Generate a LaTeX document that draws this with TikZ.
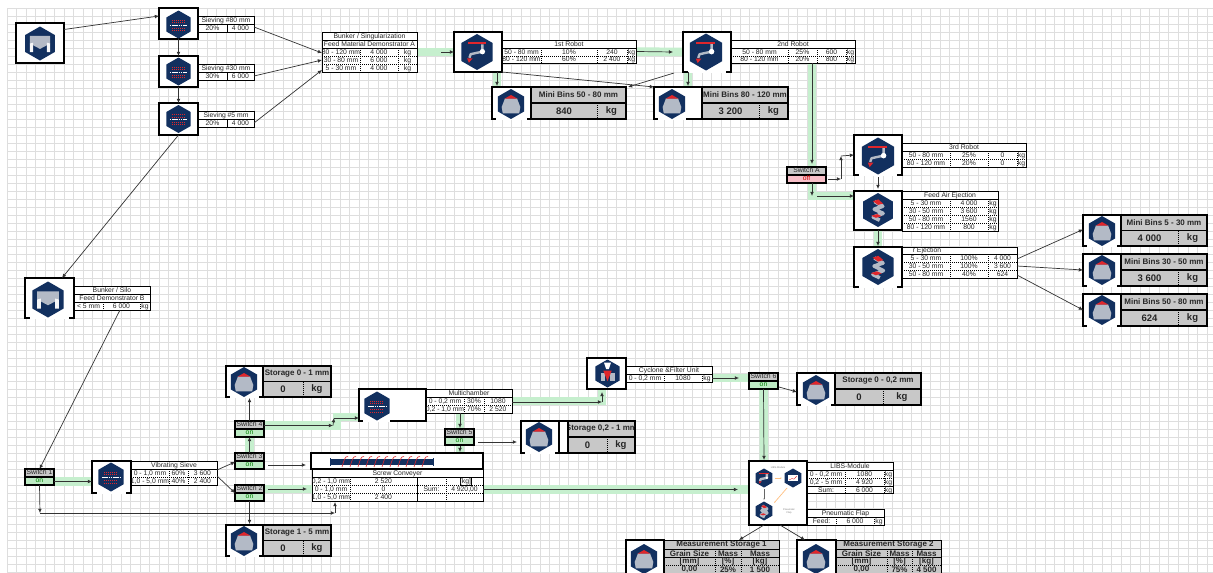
\documentclass[tikz,border=0pt]{standalone}
\usepackage{fontspec}
\setmainfont{Liberation Sans}
\usepackage{xcolor}
\usetikzlibrary{arrows.meta,calc,backgrounds}
\definecolor{hexnavy}{HTML}{12305F}
\definecolor{bingray}{HTML}{C8C8C8}
\definecolor{hopper}{HTML}{B3BAC6}
\definecolor{flowgreen}{HTML}{C6EFCE}
\definecolor{gridgray}{HTML}{DEDEDE}
\definecolor{onfill}{HTML}{BDEBC4}
\definecolor{offfill}{HTML}{F7BFC8}
\definecolor{hexred}{HTML}{E0262B}
\colorlet{ontext}{green!50!black}
\colorlet{offtext}{red!80!black}
\tikzset{
  machine/.style={draw, line width=1.1pt, fill=white, inner sep=0pt, outer sep=0pt, anchor=north west},
  sheet/.style={draw, line width=.5pt, fill=white, inner sep=0pt, outer sep=0pt, anchor=north west},
  bincell/.style={machine, fill=bingray},
  cellt/.style={font=\fontsize{6.8}{8}\selectfont, inner sep=0pt, text height=5pt, text depth=1.2pt, text=black!85},
  bintitle/.style={font=\fontsize{8}{8}\bfseries\selectfont, inner sep=0pt, text=black!85},
  binvalue/.style={font=\fontsize{9.5}{10}\bfseries\selectfont, inner sep=0pt, text=black!85},
  solidrule/.style={line width=.5pt},
  thickrule/.style={line width=1.1pt},
  tabdash/.style={line width=.5pt, dash pattern=on 1pt off 1pt},
  arr/.style={-{Latex[length=4.2pt,width=3.8pt]}, line width=.7pt, black!80},
  flow/.style={line width=8.5pt, flowgreen},
  gridline/.style={line width=.9pt, gridgray},
  notch/.style={white, line width=2pt},
  pics/binicon/.style={code={
    \fill[hexnavy] (0,-1) -- (.87,-.5) -- (.87,.5) -- (0,1) -- (-.87,.5) -- (-.87,-.5) -- cycle;
    \fill[hopper] (-.4,-.38) -- (.4,-.38) -- (.62,.2) -- (.55,.62) -- (-.55,.62) -- (-.62,.2) -- cycle;
    \fill[hexred] (-.42,-.36) -- (0,-.6) -- (.42,-.36) -- cycle;}},
  pics/bunkericon/.style={code={
    \fill[hexnavy] (0,-1) -- (.87,-.5) -- (.87,.5) -- (0,1) -- (-.87,.5) -- (-.87,-.5) -- cycle;
    \fill[hopper] (-.6,-.45) -- (.6,-.45) -- (.6,0) -- (0,.32) -- (-.6,0) -- cycle;
    \fill[white!88!hopper] (-.6,0) -- (-.4,-.05) -- (-.4,.5) -- (-.6,.5) -- cycle;
    \fill[white!88!hopper] (.6,0) -- (.4,-.05) -- (.4,.5) -- (.6,.5) -- cycle;}},
  pics/sieveicon/.style={code={
    \fill[hexnavy] (0,-1) -- (.87,-.5) -- (.87,.5) -- (0,1) -- (-.87,.5) -- (-.87,-.5) -- cycle;
    \foreach \dy in {-.32,-.16,.24,.4}
      \draw[hexred, line width=.5pt, dash pattern=on .8pt off 1.2pt] (-.45,\dy) -- (.45,\dy);
    \draw[white, line width=.9pt, dash pattern=on 1.6pt off .6pt] (-.62,.04) -- (.62,.04);}},
  pics/roboticon/.style={code={
    \fill[hexnavy] (0,-1) -- (.87,-.5) -- (.87,.5) -- (0,1) -- (-.87,.5) -- (-.87,-.5) -- cycle;
    \fill[hexred] (-.52,-.55) rectangle (.5,-.45);
    \draw[hopper, line width=2.4pt, line join=round] (.3,-.42) -- (.3,-.02) -- (-.35,.12) -- (-.42,.32);
    \fill[white] (.3,-.02) circle (.15);
    \fill[hexred] (-.55,.36) -- (-.25,.36) -- (-.45,.6) -- cycle;}},
  pics/ejecticon/.style={code={
    \fill[hexnavy] (0,-1) -- (.87,-.5) -- (.87,.5) -- (0,1) -- (-.87,.5) -- (-.87,-.5) -- cycle;
    \draw[hopper, line width=3.6pt, line join=round] (-.2,-.5) -- (.28,-.22) -- (-.22,-.05) -- (.3,.2) -- (-.28,.42) -- (.1,.6);
    \fill[hexred] (-.3,-.52) -- (.02,-.62) -- (.3,-.38) -- (0,-.3) -- cycle;
    \fill[hexred] (-.4,.34) -- (-.05,.24) -- (.2,.36) -- (-.12,.46) -- cycle;}},
  pics/cycloneicon/.style={code={
    \fill[hexnavy] (0,-1) -- (.87,-.5) -- (.87,.5) -- (0,1) -- (-.87,.5) -- (-.87,-.5) -- cycle;
    \fill[white] (-.25,-.78) -- (.25,-.78) -- (.1,-.32) -- (-.1,-.32) -- cycle;
    \fill[hopper] (-.5,-.05) rectangle (-.18,.55);
    \fill[hopper] (.18,-.05) rectangle (.5,.55);
    \fill[hexred] (-.3,-.2) -- (.3,-.2) -- (0,.55) -- cycle;}},
  pics/charticon/.style={code={
    \fill[hexnavy] (0,-1) -- (.87,-.5) -- (.87,.5) -- (0,1) -- (-.87,.5) -- (-.87,-.5) -- cycle;
    \fill[white] (-.5,-.3) rectangle (.5,.3);
    \draw[hexred, line width=.4pt] (-.4,.2) -- (-.1,.05) -- (.1,.12) -- (.4,-.2);}}}
\newcommand{\rectnode}[6]{\node[#1, minimum width={(#5-#3)*1pt}, minimum height={(#6-#4)*1pt}] (#2) at (#3,#4) {};}
\newcommand{\rowt}[2]{\foreach \xa/\xb/\txt in {#2} \node[cellt] (c\xa r#1) at ({(\xa+\xb)/2},#1+4.1) {\txt};}
\newcommand{\hrules}[3]{\foreach \ry in {#3} \draw[tabdash] (#1,\ry) -- (#2,\ry);}
\newcommand{\vrules}[3]{\foreach \cx in {#3} \draw[tabdash] (\cx,#1) -- (\cx,#2);}
\newcommand{\bincard}[9]{
  \rectnode{machine}{#1}{#2}{#5}{#3}{#6}
  \rectnode{bincell}{#1tab}{#3}{#5}{#4}{#6}
  \draw[thickrule] (#3,{(#5+#6)/2}) -- (#4,{(#5+#6)/2});
  \draw[tabdash] (#7,{(#5+#6)/2}) -- (#7,#6);
  \node[bintitle] (#1title) at ({(#3+#4)/2},{#5+.25*(#6-#5)}) {#8};
  \node[binvalue] (#1value) at ({(#3+#7)/2},{#5+.75*(#6-#5)}) {#9};
  \node[binvalue] (#1unit) at ({(#7+#4)/2},{#5+.75*(#6-#5)}) {kg};}
\newcommand{\switchbox}[6]{
  \rectnode{machine}{#1}{#2}{#3}{#2+#6}{#3+16}
  \fill[bingray] (#2,#3) rectangle (#2+#6,#3+8);
  \fill[#5fill] (#2,#3+8) rectangle (#2+#6,#3+16);
  \rectnode{machine, fill=none}{#1edge}{#2}{#3}{#2+#6}{#3+16}
  \draw[thickrule] (#2,#3+8) -- (#2+#6,#3+8);
  \node[cellt] (#1label) at ({#2+#6/2},#3+4) {#4};
  \node[cellt, text=#5text] (#1state) at ({#2+#6/2},#3+12) {#5};}
\newcommand{\measure}[8]{
  \rectnode{machine}{#1}{#2}{540}{#3}{574}
  \rectnode{sheet, fill=bingray}{#1tab}{#3}{540}{#4}{574}
  \foreach \ry in {549,557} \draw[solidrule] (#3,\ry) -- (#4,\ry);
  \hrules{#3}{#4}{565}
  \vrules{549}{574}{#5,#6}
  \foreach \xa/\xb/\txt/\rr in {#3/#4/#7/540, #3/#5/Grain Size/549, #5/#6/Mass/549, #6/#4/Mass/549, #3/#5/[mm]/557, #5/#6/[\%]/557, #6/#4/[kg]/557, #3/#5/0{,}00/565, #5/#6/#8/565}
    \node[bintitle] (m\xa r\rr) at ({(\xa+\xb)/2},\rr+4.3) {\txt};}
\begin{document}
\begin{tikzpicture}[x=1pt,y=-1pt]
  \useasboundingbox (0,0) rectangle (1213,573);
  \rectnode{machine}{bunkerA}{16}{23}{64}{63}
  \rectnode{machine}{sieveA}{159}{8}{198}{39}
  \rectnode{machine}{sieveB}{159}{56}{198}{87}
  \rectnode{machine}{sieveC}{159}{103}{198}{135}
  \pic[scale=17] at (40,43.5) {bunkericon};
  \pic[scale=14] at (178.5,24.5) {sieveicon};
  \pic[scale=14] at (178.5,71.5) {sieveicon};
  \pic[scale=14] at (178.5,119) {sieveicon};
  \foreach \nm/\yt/\lbl/\pc/\mas in {sieveAtab/16/{Sieving \#80 mm}/20\%/4 000, sieveBtab/64/{Sieving \#30 mm}/30\%/6 000, sieveCtab/111/{Sieving \#5 mm}/20\%/4 000}{
    \rectnode{sheet}{\nm}{198}{\yt}{254}{\yt+16}
    \draw[solidrule] (198,\yt+8) -- (254,\yt+8) (227,\yt+8) -- (227,\yt+16);
    \rowt{\yt}{198/254/\lbl}
    \pgfmathtruncatemacro{\yn}{\yt+8}
    \rowt{\yn}{198/227/\pc, 227/254/\mas}}
  \rectnode{sheet}{singleTab}{322}{32}{417}{72}
  \draw[solidrule] (322,40) -- (417,40) (322,48) -- (417,48);
  \hrules{322}{417}{56,64}
  \vrules{48}{72}{360,398}
  \rowt{32}{322/417/{Bunker / Singularization}}
  \rowt{40}{322/417/Feed Material Demonstrator A}
  \rowt{48}{322/360/80 - 120 mm, 360/398/4 000, 398/417/kg}
  \rowt{56}{322/360/30 - 80 mm, 360/398/6 000, 398/417/kg}
  \rowt{64}{322/360/5 - 30 mm, 360/398/4 000, 398/417/kg}
  \rectnode{machine}{robotA}{454}{32}{502}{72}
  \rectnode{machine}{robotB}{683}{32}{731}{72}
  \rectnode{sheet}{robotAtab}{502}{40}{636}{63}
  \rectnode{sheet}{robotBtab}{731}{40}{855}{63}
  \draw[solidrule] (502,48) -- (636,48) (731,48) -- (855,48);
  \hrules{502}{636}{56}
  \hrules{731}{855}{56}
  \vrules{48}{63}{541,597,627,788,817,846}
  \rowt{40}{502/636/1st Robot, 731/855/2nd Robot}
  \rowt{48}{502/541/50 - 80 mm, 541/597/10\%, 597/627/240, 627/636/kg, 731/788/50 - 80 mm, 788/817/25\%, 817/846/600, 846/855/kg}
  \rowt{55}{502/541/80 - 120 mm, 541/597/60\%, 597/627/2 400, 627/636/kg, 731/788/80 - 120 mm, 788/817/20\%, 817/846/800, 846/855/kg}
  \bincard{binA}{492}{531}{626}{87}{119}{597}{Mini Bins 50 - 80 mm}{840}
  \bincard{binB}{654}{702}{788}{87}{119}{759}{Mini Bins 80 - 120 mm}{3 200}
  \rectnode{machine}{robotC}{854}{135}{902}{175}
  \rectnode{sheet}{robotCtab}{902}{143}{1026}{167}
  \draw[solidrule] (902,151) -- (1026,151);
  \hrules{902}{1026}{159}
  \vrules{151}{167}{950,988,1017}
  \rowt{143}{902/1026/3rd Robot}
  \rowt{151}{902/950/50 - 80 mm, 950/988/25\%, 988/1017/0, 1017/1026/kg}
  \rowt{159}{902/950/80 - 120 mm, 950/988/20\%, 988/1017/0, 1017/1026/kg}
  \rectnode{machine}{feedA}{854}{191}{902}{230}
  \rectnode{sheet}{feedAtab}{902}{191}{998}{231}
  \draw[solidrule] (902,199) -- (998,199);
  \hrules{902}{998}{207,215,223}
  \vrules{199}{231}{950,988}
  \rowt{191}{902/998/Feed Air Ejection}
  \rowt{199}{902/950/5 - 30 mm, 950/988/4 000, 988/998/kg}
  \rowt{207}{902/950/30 - 50 mm, 950/988/3 600, 988/998/kg}
  \rowt{215}{902/950/50 - 80 mm, 950/988/1560, 988/998/kg}
  \rowt{223}{902/950/80 - 120 mm, 950/988/800, 988/998/kg}
  \rectnode{machine}{ejectA}{854}{247}{902}{287}
  \rectnode{sheet}{ejectAtab}{902}{247}{1017}{278}
  \draw[solidrule] (902,254) -- (1017,254);
  \hrules{902}{1017}{262,270}
  \vrules{254}{278}{950,988}
  \rowt{246}{904/950/r Ejection}
  \rowt{254}{902/950/5 - 30 mm, 950/988/100\%, 988/1017/4 000}
  \rowt{262}{902/950/30 - 50 mm, 950/988/100\%, 988/1017/3 600}
  \rowt{270}{902/950/50 - 80 mm, 950/988/40\%, 988/1017/624}
  \bincard{binC}{1083}{1121}{1207}{215}{246}{1178}{Mini Bins 5 - 30 mm}{4 000}
  \bincard{binD}{1083}{1121}{1207}{254}{286}{1178}{Mini Bins 30 - 50 mm}{3 600}
  \bincard{binE}{1083}{1121}{1207}{294}{326}{1178}{Mini Bins 50 - 80 mm}{624}
  \switchbox{switchA}{787}{167}{Switch A}{off}{39}
  \rectnode{machine}{silo}{25}{278}{74}{318}
  \rectnode{sheet}{siloTab}{74}{286}{150}{310}
  \draw[solidrule] (74,294) -- (150,294) (74,302) -- (150,302);
  \vrules{302}{310}{103,140}
  \rowt{286}{74/150/{Bunker / Silo}}
  \rowt{294}{74/150/Feed Demonstrator B}
  \rowt{302}{74/103/< 5 mm, 103/140/6 000, 140/150/kg}
  \switchbox{switchS}{25}{469}{Switch 1}{on}{29}
  \switchbox{switchB}{235}{485}{Switch 2}{on}{29}
  \switchbox{switchC}{235}{453}{Switch 3}{on}{29}
  \switchbox{switchD}{235}{421}{Switch 4}{on}{29}
  \switchbox{switchE}{445}{429}{Switch 5}{on}{29}
  \switchbox{switchF}{749}{373}{Switch 6}{on}{29}
  \rectnode{machine}{vibSieve}{92}{461}{131}{493}
  \rectnode{sheet}{vibSieveTab}{131}{461}{217}{485}
  \draw[solidrule] (131,469) -- (217,469);
  \hrules{131}{217}{477}
  \vrules{469}{485}{169,188}
  \rowt{461}{131/217/Vibrating Sieve}
  \rowt{469}{131/169/0 - 1{,}0 mm, 169/188/60\%, 188/217/3 600}
  \rowt{477}{131/169/1{,}0 - 5{,}0 mm, 169/188/40\%, 188/217/2 400}
  \bincard{storeA}{226}{263}{331}{366}{397}{303}{Storage 0 - 1 mm}{0}
  \bincard{storeB}{226}{263}{331}{525}{556}{303}{Storage 1 - 5 mm}{0}
  \rectnode{machine}{multi}{359}{389}{426}{421}
  \rectnode{sheet}{multiTab}{426}{389}{512}{413}
  \draw[solidrule] (426,397) -- (512,397);
  \hrules{426}{512}{405}
  \vrules{397}{413}{464,484}
  \rowt{389}{426/512/Multichamber}
  \rowt{397}{426/464/0 - 0{,}2 mm, 464/484/30\%, 484/512/1080}
  \rowt{405}{426/464/0{,}2 - 1{,}0 mm, 464/484/70\%, 484/512/2 520}
  \rectnode{machine}{storeC}{521}{421}{559}{453}
  \rectnode{machine}{storeCgap}{559}{421}{568}{453}
  \rectnode{bincell}{storeCtab}{568}{421}{635}{453}
  \draw[thickrule] (568,437) -- (635,437);
  \draw[tabdash] (607,437) -- (607,453);
  \begin{scope}
    \clip (569,422) rectangle (634,436);
    \node[bintitle] (storeCtitle) at (601.5,429) {Storage 0,2 - 1 mm};
  \end{scope}
  \node[binvalue] (storeCvalue) at (587.5,445) {0};
  \node[binvalue] (storeCunit) at (621,445) {kg};
  \rectnode{machine}{screw}{311}{453}{483}{469}
  \rectnode{sheet}{screwTab}{312}{469}{483}{501}
  \draw[solidrule] (312,477) -- (483,477) (417,477) -- (417,501);
  \hrules{312}{483}{485,493}
  \vrules{477}{501}{350,446}
  \draw[solidrule] (460,477) rectangle (471,485);
  \rowt{469}{312/483/Screw Conveyer}
  \rowt{477}{312/350/0{,}2 - 1{,}0 mm, 350/417/2 520, 460/471/[kg]}
  \rowt{485}{312/350/0 - 1{,}0 mm, 350/417/0, 417/446/Sum:, 446/483/4 920{,}00}
  \rowt{493}{312/350/1{,}0 - 5{,}0 mm, 350/417/2 400}
  \draw[hexnavy, line width=6pt] (331,461.5) -- (433,461.5);
  \draw[hexnavy, line width=1pt] (330.5,458) -- (330.5,466) (433,458) -- (433,466);
  \foreach \sx in {345,353,...,425}
    \draw[hexred, line width=.6pt] (\sx-3,467) .. controls (\sx-1,460) and (\sx,456) .. (\sx+3,456.5);
  \rectnode{machine}{cyclone}{587}{358}{626}{389}
  \rectnode{sheet}{cycloneTab}{626}{366}{712}{382}
  \draw[solidrule] (626,374) -- (712,374);
  \vrules{374}{382}{664,702}
  \rowt{366}{626/712/Cyclone \&Filter Unit}
  \rowt{374}{626/664/0 - 0{,}2 mm, 664/702/1080, 702/712/kg}
  \bincard{storeD}{797}{835}{921}{373}{405}{883}{Storage 0 - 0,2 mm}{0}
  \rectnode{machine}{libs}{749}{461}{807}{525}
  \rectnode{sheet}{libsTab}{807}{462}{893}{493}
  \draw[solidrule] (807,470) -- (893,470) (807,486) -- (893,486);
  \hrules{807}{893}{478}
  \vrules{470}{493}{845,884}
  \rowt{462}{807/893/LIBS-Module}
  \rowt{470}{807/845/0 - 0{,}2 mm, 845/884/1080, 884/893/kg}
  \rowt{478}{807/845/0{,}2 - 5 mm, 845/884/4 920, 884/893/kg}
  \rowt{486}{807/845/Sum:, 845/884/6 000, 884/893/kg}
  \rectnode{sheet}{flapTab}{807}{509}{884}{525}
  \draw[solidrule] (807,517) -- (884,517);
  \vrules{517}{525}{836,874}
  \rowt{509}{807/884/Pneumatic Flap}
  \rowt{517}{807/836/Feed:, 836/874/6 000, 874/884/kg}
  \measure{measA}{626}{664}{779}{715}{741}{Measurement Storage 1}{25\%}
  \node[bintitle] (measAmass) at (760,569.3) {1 500};
  \measure{measB}{797}{836}{941}{887}{912}{Measurement Storage 2}{75\%}
  \node[bintitle] (measBmass) at (926.5,569.3) {4 500};
  \foreach \nm/\gl/\gr in {robotB/5/5, robotC/5/5, ejectA/5/5, silo/5/5, vibSieve/5/5, multi/4/36, binA/4/4, binB/4/16, binC/4/4, binD/4/4, binE/4/4, storeA/4/4, storeB/4/4, storeC/4/4, storeD/4/4}
    \draw[notch] ([xshift=\gl pt]\nm.south west) -- ([xshift=-\gr pt]\nm.south east);
  \pic[scale=18] at (477,52) {roboticon};
  \pic[scale=18.5] at (706,52) {roboticon};
  \pic[scale=18.5] at (878,156) {roboticon};
  \pic[scale=17] at (878,210) {ejecticon};
  \pic[scale=18] at (878,267) {ejecticon};
  \pic[scale=14.5] at (111,477) {sieveicon};
  \pic[scale=14.5] at (377,406) {sieveicon};
  \pic[scale=18] at (48,299.5) {bunkericon};
  \pic[scale=14] at (607.5,373.5) {cycloneicon};
  \foreach \cx/\cy in {511/104, 672/104, 1102/231, 1102/270, 1102/310, 244/382, 244/541, 539/437, 816/390, 644/559, 816/559}
    \pic[scale=15] at (\cx,\cy) {binicon};
  \pic[scale=9.5] at (764,478) {roboticon};
  \pic[scale=9.5] at (793,478) {charticon};
  \pic[scale=9.5] at (764,511) {ejecticon};
  \node[font=\fontsize{2.5}{3}\selectfont, text=black!50, inner sep=0pt] (libsCaption) at (778,468) {LIBS-Module};
  \node[font=\fontsize{2.5}{3}\selectfont, text=black!50, inner sep=0pt, align=center] (flapCaption) at (789,511) {Pneumatic\\Flap};
  \draw[-{Latex[length=1.5pt]}, orange!50, line width=.7pt] (775,478) -- (782,478);
  \draw[-{Latex[length=1.5pt]}, orange!50, line width=.7pt] (787,488) -- (774,503);
  \draw[-{Latex[length=1.5pt]}, black!60, line width=.4pt] (764,489) -- (764,500);
  \begin{scope}[on background layer]
    \fill[white] (0,0) rectangle (1213,573);
    \foreach \gi in {0,...,126} \draw[gridline] ({7+9.524*\gi},8) -- ({7+9.524*\gi},573);
    \foreach \gi in {0,...,71} \draw[gridline] (7,{8.7+7.94*\gi}) -- (1213,{8.7+7.94*\gi});
    \draw[flow] (singleTab.east) -- (robotA.west);
    \draw[flow] (robotAtab.east) -- (robotB.west);
    \draw[flow] ([xshift=19pt]robotA.south) -- ([xshift=-14.5pt]binA.north);
    \draw[flow] ([xshift=-19pt]robotB.south) -- ([xshift=10pt]binB.north);
    \draw[flow] ([xshift=19pt]robotBtab.south) -- ([xshift=5.5pt]switchA.north);
    \draw[flow] ([xshift=5.5pt]switchA.south) |- ([yshift=14.5pt]feedA.west);
    \draw[flow] (feedA.south) -- (ejectA.north);
    \draw[flow] ([yshift=-4.5pt]switchS.east) -- ([yshift=-4.5pt]vibSieve.west);
    \draw[flow] (switchC.north) -- (switchD.south);
    \draw[flow] ([yshift=4pt]switchB.east) -- ([yshift=-4pt]screwTab.west);
    \draw[flow] ([yshift=3.5pt]switchD.east) -- ++(73,0) |- ([yshift=-12pt]multi.west);
    \draw[flow] ([xshift=-9pt]multiTab.south) -- ([xshift=.5pt]switchE.north);
    \draw[flow] ([xshift=.5pt]switchE.south) -- ([xshift=63pt]screw.north);
    \draw[flow] (multiTab.east) -| ([xshift=-4.5pt]cyclone.south);
    \draw[flow] ([yshift=-4pt]cycloneTab.east) -- ([yshift=3pt]switchF.west);
    \draw[flow] (switchF.south) -- ([xshift=-14pt]libs.north);
    \draw[flow] ([yshift=-4.5pt]screwTab.east) -- ([yshift=3.5pt]libs.west);
  \end{scope}
  \draw[arr] ([yshift=13.5pt]bunkerA.east) -- ([yshift=7.5pt]sieveA.west);
  \draw[arr] (sieveA.south) -- (sieveB.north);
  \draw[arr] (sieveB.south) -- (sieveC.north);
  \draw[arr] ([yshift=-3pt]sieveAtab.east) -- ([yshift=-1pt]singleTab.west);
  \draw[arr] ([yshift=-4pt]sieveBtab.east) -- ([yshift=-8pt]singleTab.west);
  \draw[arr] ([yshift=-4pt]sieveCtab.east) -- ([yshift=-18pt]singleTab.west);
  \draw[arr] (sieveC.south) -- ([xshift=12.5pt]silo.north);
  \draw[arr] ([xshift=8pt]siloTab.south) -- (switchS.north);
  \draw[arr] ([xshift=24pt]singleTab.east) -- (robotA.west);
  \draw[arr] ([xshift=1pt]robotAtab.east) -- ([xshift=-10pt]robotB.west);
  \draw[arr] ([xshift=19pt]robotA.south) -- ([xshift=-14.5pt,yshift=1pt]binA.north);
  \draw[arr] ([xshift=-19pt]robotB.south) -- ([xshift=10pt,yshift=1pt]binB.north);
  \draw[arr] (robotA.south east) -- (binB.north west);
  \draw[arr] ([xshift=-33pt,yshift=-1pt]robotB.south) -- ([xshift=2pt]binAtab.north east);
  \draw[arr] ([xshift=19pt]robotBtab.south) -- ([xshift=5.5pt,yshift=3pt]switchA.north);
  \coordinate (turnA) at (841,179);
  \draw[arr] ([xshift=2pt,yshift=-4pt]switchA.east) -- (turnA);
  \draw[arr] (turnA) -- (841,156);
  \draw[arr] (841,156) -- (robotC.west);
  \draw[arr] ([xshift=5.5pt]switchA.south) -- ([xshift=5.5pt,yshift=-13pt]switchA.south);
  \draw[arr] ([xshift=-37pt,yshift=14.5pt]feedA.west) -- ([yshift=14.5pt]feedA.west);
  \draw[arr] ([yshift=-2pt]robotC.south) -- ([yshift=2pt]feedA.north);
  \draw[arr] (feedA.south) -- ([yshift=1pt]ejectA.north);
  \draw[arr] ([yshift=3.5pt]ejectAtab.east) -- ([yshift=1pt]binC.west);
  \draw[arr] ([yshift=-3.5pt]ejectAtab.east) -- (binD.west);
  \draw[arr] ([yshift=-12.5pt]ejectAtab.east) -- (binE.west);
  \draw[arr] ([yshift=-4.5pt]switchS.east) -- ([yshift=-4.5pt]vibSieve.west);
  \draw[arr] ([yshift=3pt]vibSieveTab.east) -- ([yshift=-1pt]switchC.west);
  \draw[arr] ([yshift=-3pt]vibSieveTab.east) -- (switchB.west);
  \draw[arr] (switchC.north) -- (switchD.south);
  \draw[arr] (switchD.north) -- ([xshift=5pt,yshift=-1pt]storeA.south);
  \draw[arr] ([xshift=4pt,yshift=-4pt]switchC.east) -- ([xshift=-5pt,yshift=-4pt]switchC.east -| screw.west);
  \draw[arr] ([xshift=4pt,yshift=4pt]switchB.east) -- ([xshift=-5pt,yshift=4pt]switchB.east -| screwTab.west);
  \draw[arr] (switchB.south) -- ([yshift=1pt]switchB.south |- storeB.north);
  \coordinate (turnB) at (40,513);
  \coordinate (turnC) at (335,513);
  \draw[arr] (switchS.south) -- (turnB);
  \draw[arr] (turnB) -- (turnC);
  \draw[arr] (turnC) -- (335,502);
  \coordinate (turnD) at (334,418);
  \draw[arr] ([yshift=3.5pt]switchD.east) -- ++(69,0);
  \draw[arr] ([yshift=3.5pt,xshift=69pt]switchD.east) -- (turnD);
  \draw[arr] (turnD) -- (multi.west |- turnD);
  \draw[arr] ([xshift=-9pt]multiTab.south) -- ([xshift=.5pt,yshift=1pt]switchE.north);
  \draw[arr] ([xshift=.5pt,yshift=-1pt]switchE.south) -- ([xshift=63pt,yshift=1pt]screw.north);
  \draw[arr] ([xshift=4pt,yshift=-5pt]switchE.east) -- ([xshift=-4pt,yshift=-5pt]storeC.west);
  \coordinate (turnE) at (602,402);
  \draw[arr] (multiTab.east |- turnE) -- (turnE);
  \draw[arr] (turnE) -- ([xshift=-4.5pt,yshift=-3pt]cyclone.south);
  \draw[arr] ([yshift=-4pt]cycloneTab.east) -- ([xshift=-10pt,yshift=3pt]switchF.west);
  \draw[arr] ([xshift=1pt,yshift=-6pt]switchF.east) -- ([yshift=-3pt]storeD.west);
  \draw[arr] (switchF.south) -- ([xshift=-14pt,yshift=1pt]libs.north);
  \draw[arr] ([yshift=-4.5pt]screwTab.east) -- ([xshift=-11pt,yshift=3.5pt]libs.west);
  \draw[arr] ([xshift=-14pt]libs.south) -- ([xshift=17.5pt]measAtab.north);
  \draw[arr] ([xshift=2pt]libs.south) -- ([xshift=-11.5pt]measB.north);
\end{tikzpicture}
\end{document}
